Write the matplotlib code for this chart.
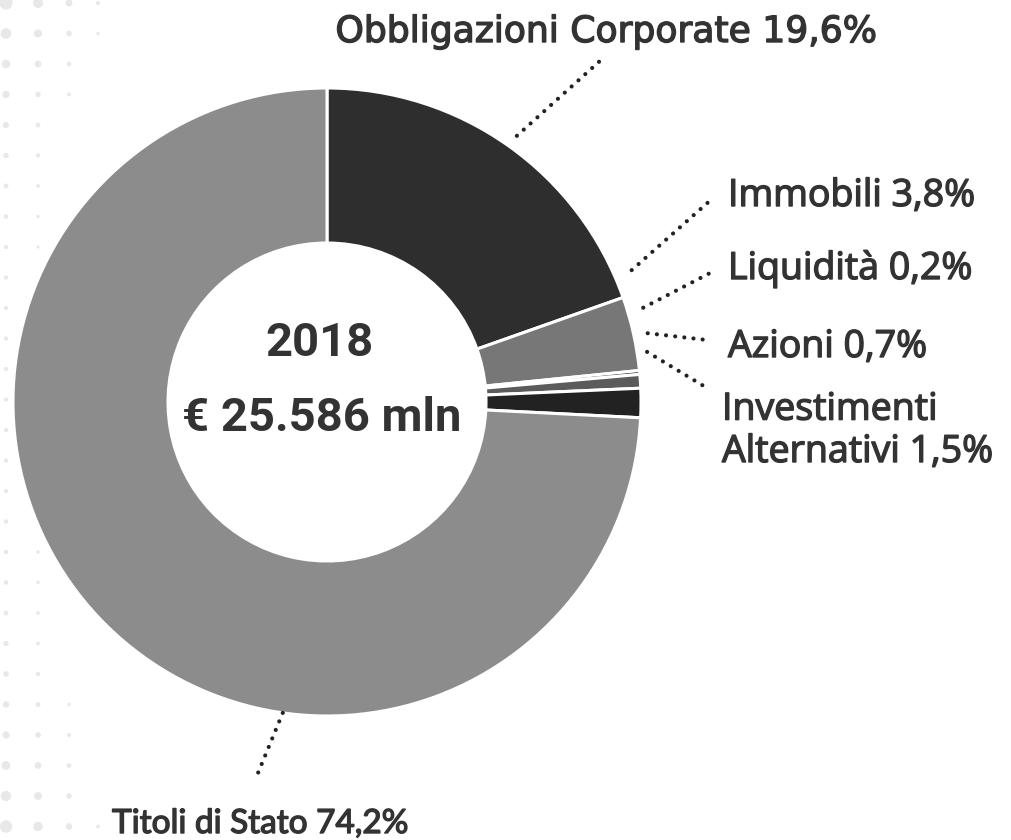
import numpy as np
import matplotlib
matplotlib.use("Agg")
import matplotlib.pyplot as plt
import matplotlib.patheffects as pe
from matplotlib.patches import Circle
from matplotlib.collections import PatchCollection

# ---------- dati ---------------------------------------------------------- #
labels = ["Obbligazioni Corporate", "Immobili", "Liquidità", "Azioni",
          "Investimenti\nAlternativi", "Titoli di Stato"]
shares = [19.6, 3.8, 0.2, 0.7, 1.5, 74.2]
colors = ["#2e2e2e", "#777777", "#333333", "#5b5b5b", "#222222", "#8c8c8c"]
year = "2018"
total = "€ 25.586 mln"

W, H = 1012, 840
CX, CY = 327, 402          # centro ciambella (pixel, y verso il basso)
R_OUT, R_IN = 314, 159
TXT = "#333333"

fig = plt.figure(figsize=(W / 100, H / 100), dpi=100)
ax = fig.add_axes([0, 0, 1, 1])

# ---------- sfondo a retino ---------------------------------------------- #
dots = []
for y in np.arange(3, H + 10, 30.5):
    scale = 390 if y < 390 else 450
    w = (abs(y - 390) / scale) ** 4
    for x in (6, 38, 69, 98):
        d = (1 - x / 140) * (4.4 + 9.6 * w)
        if d >= 3.3:
            dots.append(Circle((x, y), d / 2))
ax.add_collection(PatchCollection(dots, facecolor="#e8e8e8", edgecolor="none", zorder=0))

# ---------- ciambella ------------------------------------------------------ #
# asse y invertito: senso antiorario "matematico" = orario a schermo
ax.pie(shares, colors=colors, startangle=-90, counterclock=True,
       center=(CX, CY), radius=R_OUT,
       wedgeprops=dict(width=R_OUT - R_IN, edgecolor="white", linewidth=2.2))
ax.set_xlim(0, W)
ax.set_ylim(H, 0)
ax.set_aspect("equal")
ax.axis("off")

ax.text(CX - 7, 343, year, ha="center", va="center", fontsize=34,
        family="Roboto", weight="bold", color=TXT)
ax.text(CX - 5, 418, total, ha="center", va="center", fontsize=34,
        family="Roboto", weight="bold", color=TXT)

# ---------- etichette + guide puntinate ---------------------------------- #
def ring_pt(ang, gap):
    a = np.deg2rad(ang)
    return CX + (R_OUT + gap) * np.cos(a), CY - (R_OUT + gap) * np.sin(a)

leaders = [  # (angolo di attacco, distanza dal bordo, punto finale)
    (54.5, 13, (601, 60)),
    (23.4, 18, (713, 198)),
    (16.6, 16, (712, 272)),
    (12.1, 14, (707, 340)),
    (8.9, 10, (707, 388)),
    (-98.1, 0, (258, 773)),
]
for ang, gap, end in leaders:
    x0, y0 = ring_pt(ang, gap)
    ax.plot([x0, end[0]], [y0, end[1]], color="#222222", lw=3.0,
            ls=(0, (0.01, 2.2)), solid_capstyle="round",
            dash_capstyle="round", zorder=3)

def pct(v):
    return f"{v:.1f}%".replace(".", ",")

thick = [pe.withStroke(linewidth=1.0, foreground=TXT)]
lab_kw = dict(family="Open Sans", color=TXT, fontsize=27, path_effects=thick)

ax.text(606, 42, f"{labels[0]} {pct(shares[0])}", ha="center", va="baseline",
        family="DejaVu Sans", color=TXT, fontsize=26, path_effects=thick)
ax.text(728, 206, f"{labels[1]} {pct(shares[1])}", ha="left", va="baseline", **lab_kw)
ax.text(728, 279, f"{labels[2]} {pct(shares[2])}", ha="left", va="baseline", **lab_kw)
ax.text(728, 357, f"{labels[3]} {pct(shares[3])}", ha="left", va="baseline", **lab_kw)
ax.text(722, 462, f"{labels[4]} {pct(shares[4])}", ha="left", va="baseline",
        linespacing=1.15, **lab_kw)
ax.text(112, 833, f"{labels[5]} {pct(shares[5])}", ha="left", va="baseline",
        family="Lato", color=TXT, fontsize=24, path_effects=thick)

fig.savefig("out.png", dpi=100, facecolor="white")
